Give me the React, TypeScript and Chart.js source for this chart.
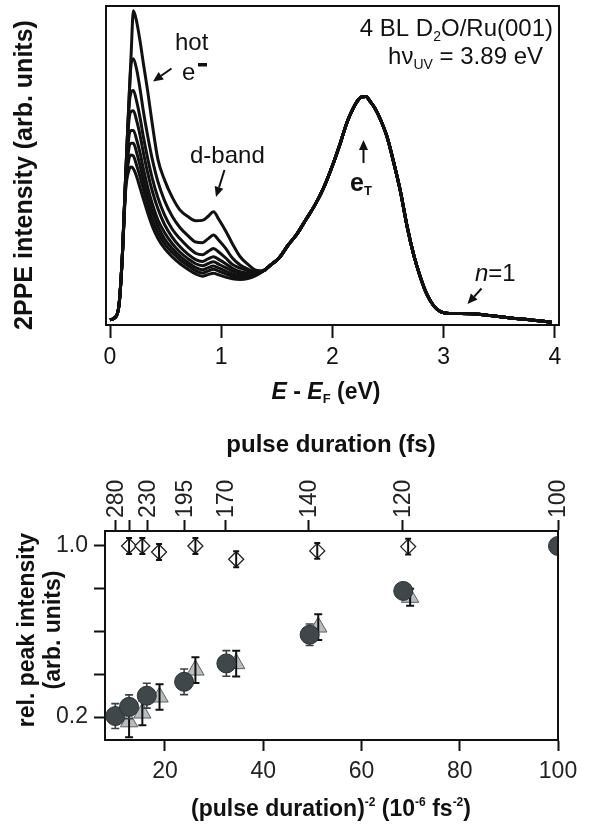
import React, { useEffect, useRef } from 'react';
import { Chart, registerables } from 'chart.js';
Chart.register(...registerables);

const FONT = '"Liberation Sans", Arial, Helvetica, sans-serif';

// ---------- top panel: 2PPE spectra ----------
const energyLow = [0.0, 0.04, 0.08, 0.11, 0.14, 0.17, 0.19, 0.21, 0.24, 0.27, 0.3, 0.34, 0.38, 0.43, 0.49, 0.56, 0.63, 0.7, 0.77, 0.83, 0.88, 0.93, 0.98, 1.04, 1.1, 1.17, 1.24, 1.31];
const spectrum1 = [0.016, 0.022, 0.06, 0.21, 0.46, 0.7, 0.85, 0.985, 0.95, 0.89, 0.82, 0.73, 0.63, 0.52, 0.455, 0.4, 0.36, 0.34, 0.327, 0.328, 0.34, 0.355, 0.33, 0.295, 0.255, 0.214, 0.19, 0.172];
const spectrum2 = [0.016, 0.022, 0.06, 0.21, 0.46, 0.7, 0.82, 0.835, 0.8, 0.74, 0.67, 0.59, 0.52, 0.45, 0.39, 0.34, 0.305, 0.28, 0.26, 0.258, 0.27, 0.282, 0.265, 0.24, 0.21, 0.188, 0.175, 0.166];
const spectrum3 = [0.016, 0.022, 0.06, 0.21, 0.46, 0.68, 0.73, 0.735, 0.7, 0.65, 0.59, 0.52, 0.46, 0.4, 0.345, 0.3, 0.27, 0.245, 0.225, 0.22, 0.23, 0.24, 0.228, 0.21, 0.19, 0.178, 0.17, 0.165];
const spectrum4 = [0.016, 0.022, 0.06, 0.21, 0.46, 0.64, 0.67, 0.672, 0.64, 0.595, 0.54, 0.475, 0.42, 0.365, 0.315, 0.275, 0.245, 0.222, 0.205, 0.199, 0.207, 0.214, 0.205, 0.192, 0.178, 0.167, 0.163, 0.162];
const spectrum5 = [0.016, 0.022, 0.06, 0.21, 0.45, 0.59, 0.61, 0.61, 0.58, 0.54, 0.49, 0.43, 0.38, 0.33, 0.29, 0.255, 0.228, 0.208, 0.192, 0.186, 0.192, 0.198, 0.19, 0.18, 0.169, 0.162, 0.16, 0.161];
const spectrum6 = [0.016, 0.022, 0.06, 0.21, 0.44, 0.555, 0.57, 0.57, 0.54, 0.5, 0.455, 0.4, 0.355, 0.31, 0.27, 0.24, 0.215, 0.196, 0.18, 0.173, 0.179, 0.185, 0.178, 0.169, 0.16, 0.155, 0.155, 0.159];
const spectrum7 = [0.016, 0.022, 0.06, 0.21, 0.43, 0.52, 0.533, 0.53, 0.5, 0.465, 0.425, 0.375, 0.33, 0.29, 0.255, 0.227, 0.204, 0.186, 0.17, 0.163, 0.169, 0.175, 0.168, 0.16, 0.153, 0.15, 0.151, 0.157];
const spectrum8 = [0.016, 0.022, 0.06, 0.21, 0.42, 0.485, 0.495, 0.49, 0.465, 0.43, 0.395, 0.35, 0.31, 0.272, 0.24, 0.213, 0.192, 0.175, 0.16, 0.153, 0.158, 0.162, 0.157, 0.15, 0.145, 0.143, 0.146, 0.155];
const energyHigh = [1.38, 1.45, 1.52, 1.6, 1.68, 1.76, 1.84, 1.92, 2.0, 2.07, 2.13, 2.18, 2.22, 2.26, 2.3, 2.34, 2.38, 2.43, 2.49, 2.55, 2.61, 2.67, 2.73, 2.79, 2.85, 2.91, 2.97, 3.05, 3.15, 3.25, 3.35, 3.45, 3.55, 3.65, 3.75, 3.85, 3.97];
const spectrumHighCommon = [0.17, 0.19, 0.21, 0.25, 0.285, 0.33, 0.375, 0.43, 0.5, 0.57, 0.635, 0.675, 0.7, 0.715, 0.716, 0.7, 0.68, 0.645, 0.59, 0.51, 0.42, 0.31, 0.22, 0.15, 0.095, 0.06, 0.042, 0.036, 0.036, 0.035, 0.032, 0.028, 0.024, 0.02, 0.017, 0.013, 0.009];
const energyTicks = [0, 1, 2, 3, 4];

// ---------- bottom panel: relative peak intensity ----------
const circleX = [9.9, 12.7, 16.3, 23.9, 32.5, 49.45, 68.5, 100];
const circleY = [0.205, 0.248, 0.3, 0.365, 0.451, 0.585, 0.79, 1.0];
const circleErr = [0.058, 0.056, 0.058, 0.06, 0.06, 0.05, 0.03, 0];
const triangleX = [12.7, 15.4, 18.9, 26.2, 34.5, 51.2, 69.9];
const triangleY = [0.178, 0.219, 0.294, 0.42, 0.45, 0.621, 0.76];
const triangleErr = [0.072, 0.057, 0.06, 0.06, 0.06, 0.06, 0.04];
const diamondX = [12.7, 15.4, 18.8, 26.2, 34.5, 51.0, 69.5];
const diamondY = [1.0, 1.0, 0.972, 1.0, 0.938, 0.977, 0.997];
const diamondErr = [0.037, 0.037, 0.037, 0.037, 0.037, 0.037, 0.037];
const invSqTicks = [20, 40, 60, 80, 100];
const pulseTickPos = [9.9, 12.7, 16.4, 24.0, 32.4, 49.3, 68.4, 100];
const pulseTickLabels = ['280', '', '230', '195', '170', '140', '120', '100'];
const relTicks = [0.2, 0.4, 0.6, 0.8, 1.0];
const relTickLabels = ['0.2', '', '', '', '1.0'];

type Part = { t: string; font: string; dy?: number };
function drawParts(ctx: CanvasRenderingContext2D, parts: Part[], x: number, y: number, align: 'left' | 'center' | 'right') {
  let w = 0;
  for (const p of parts) {
    ctx.font = p.font;
    w += ctx.measureText(p.t).width;
  }
  let cx = align === 'left' ? x : align === 'center' ? x - w / 2 : x - w;
  ctx.textAlign = 'left';
  ctx.textBaseline = 'alphabetic';
  for (const p of parts) {
    ctx.font = p.font;
    ctx.fillText(p.t, cx, y + (p.dy || 0));
    cx += ctx.measureText(p.t).width;
  }
}

function drawArrow(ctx: CanvasRenderingContext2D, x1: number, y1: number, x2: number, y2: number) {
  const ang = Math.atan2(y2 - y1, x2 - x1);
  const hl = 10, hw = 4.5;
  const bx = x2 - hl * Math.cos(ang), by = y2 - hl * Math.sin(ang);
  ctx.beginPath();
  ctx.moveTo(x1, y1);
  ctx.lineTo(bx, by);
  ctx.lineWidth = 2;
  ctx.stroke();
  ctx.beginPath();
  ctx.moveTo(x2, y2);
  ctx.lineTo(bx + hw * Math.sin(ang), by - hw * Math.cos(ang));
  ctx.lineTo(bx - hw * Math.sin(ang), by + hw * Math.cos(ang));
  ctx.closePath();
  ctx.fill();
}

const R = (s: number) => `${s}px ${FONT}`;
const B = (s: number) => `bold ${s}px ${FONT}`;
const BI = (s: number) => `italic bold ${s}px ${FONT}`;
const I = (s: number) => `italic ${s}px ${FONT}`;

const topAnnot = {
  id: 'topAnnot',
  afterDraw(chart: any) {
    const { ctx, chartArea: ca } = chart;
    ctx.save();
    ctx.strokeStyle = '#111';
    ctx.fillStyle = '#111';
    ctx.lineWidth = 2;
    ctx.strokeRect(ca.left, ca.top, ca.right - ca.left, ca.bottom - ca.top);

    drawParts(ctx, [{ t: '4 BL D', font: R(24) }, { t: '2', font: R(14), dy: 5 }, { t: 'O/Ru(001)', font: R(24) }], 553, 36, 'right');
    drawParts(ctx, [{ t: 'h\u03BD', font: R(24) }, { t: 'UV', font: R(14), dy: 5 }, { t: ' = 3.89 eV', font: R(24) }], 543, 64, 'right');
    drawParts(ctx, [{ t: 'hot', font: R(24) }], 175, 50, 'left');
    drawParts(ctx, [{ t: 'e', font: R(24) }], 182, 80, 'left');
    ctx.fillRect(198, 63, 9, 3.5);
    drawParts(ctx, [{ t: 'd-band', font: R(24) }], 190, 163, 'left');
    drawParts(ctx, [{ t: 'e', font: B(25) }, { t: 'T', font: B(13), dy: 4 }], 350, 191, 'left');
    drawParts(ctx, [{ t: 'n', font: I(24) }, { t: '=1', font: R(24) }], 475, 281, 'left');

    drawArrow(ctx, 171.5, 68.5, 153, 81.5);
    drawArrow(ctx, 224.5, 170, 216, 197);
    drawArrow(ctx, 363.5, 163, 363.5, 140);
    drawArrow(ctx, 481.5, 288.5, 467.5, 304);

    drawParts(ctx, [{ t: 'E', font: BI(23) }, { t: ' - ', font: B(23) }, { t: 'E', font: BI(23) }, { t: 'F', font: B(13), dy: 4 }, { t: ' (eV)', font: B(23) }], 326, 399, 'center');

    ctx.save();
    ctx.translate(32, 175);
    ctx.rotate(-Math.PI / 2);
    drawParts(ctx, [{ t: '2PPE intensity (arb. units)', font: B(25) }], 0, 0, 'center');
    ctx.restore();
    ctx.restore();
  },
};

function drawErr(chart: any, xs: number[], ys: number[], errs: number[], color: string, lw: number, cap: number) {
  const { ctx, scales } = chart;
  const sx = scales.x, sy = scales.y;
  ctx.save();
  ctx.strokeStyle = color;
  ctx.lineWidth = lw;
  for (let i = 0; i < xs.length; i++) {
    if (!errs[i]) continue;
    const px = sx.getPixelForValue(xs[i]);
    const y1 = sy.getPixelForValue(ys[i] + errs[i]);
    const y2 = sy.getPixelForValue(ys[i] - errs[i]);
    ctx.beginPath();
    ctx.moveTo(px, y1);
    ctx.lineTo(px, y2);
    ctx.moveTo(px - cap, y1);
    ctx.lineTo(px + cap, y1);
    ctx.moveTo(px - cap, y2);
    ctx.lineTo(px + cap, y2);
    ctx.stroke();
  }
  ctx.restore();
}

const errorBars = {
  id: 'errorBars',
  beforeDatasetDraw(chart: any, args: any) {
    if (args.index === 0) drawErr(chart, circleX, circleY, circleErr, '#3a4145', 1.6, 4);
  },
  afterDatasetDraw(chart: any, args: any) {
    if (args.index === 1) drawErr(chart, triangleX, triangleY, triangleErr, '#111', 2, 4);
    if (args.index === 2) drawErr(chart, diamondX, diamondY, diamondErr, '#111', 2, 3);
  },
};

const bottomAnnot = {
  id: 'bottomAnnot',
  afterDraw(chart: any) {
    const { ctx, chartArea: ca } = chart;
    ctx.save();
    ctx.strokeStyle = '#111';
    ctx.fillStyle = '#111';
    ctx.lineWidth = 2;
    ctx.beginPath();
    ctx.moveTo(ca.right, ca.top);
    ctx.lineTo(ca.right, ca.bottom);
    ctx.stroke();

    // top axis labels (rotated)
    const sx2 = chart.scales.x2;
    ctx.fillStyle = '#222';
    ctx.font = R(23);
    for (let i = 0; i < pulseTickPos.length; i++) {
      const lbl = pulseTickLabels[i];
      if (!lbl) continue;
      const px = sx2.getPixelForValue(pulseTickPos[i]);
      ctx.save();
      ctx.translate(px, ca.top - 13);
      ctx.rotate(-Math.PI / 2);
      ctx.textAlign = 'left';
      ctx.textBaseline = 'middle';
      ctx.fillText(lbl, 0, 1);
      ctx.restore();
    }
    ctx.fillStyle = '#111';

    drawParts(ctx, [{ t: 'pulse duration (fs)', font: B(24) }], 331, 42, 'center');
    drawParts(
      ctx,
      [
        { t: '(pulse duration)', font: B(23) },
        { t: '-2', font: B(12), dy: -10 },
        { t: ' (10', font: B(23) },
        { t: '-6', font: B(12), dy: -10 },
        { t: ' fs', font: B(23) },
        { t: '-2', font: B(12), dy: -10 },
        { t: ')', font: B(23) },
      ],
      331,
      406,
      'center'
    );
    ctx.save();
    ctx.translate(34, 220);
    ctx.rotate(-Math.PI / 2);
    drawParts(ctx, [{ t: 'rel. peak intensity', font: B(23) }], 0, 0, 'center');
    ctx.restore();
    ctx.save();
    ctx.translate(60, 220);
    ctx.rotate(-Math.PI / 2);
    drawParts(ctx, [{ t: '(arb. units)', font: B(23) }], 0, 0, 'center');
    ctx.restore();
    ctx.restore();
  },
};

const axisGrid = { drawOnChartArea: false, drawTicks: true, tickLength: 11, tickWidth: 2, tickColor: '#111' };
const axisBorder = { display: true, color: '#111', width: 2 };

export default function App() {
  const topRef = useRef<HTMLCanvasElement>(null);
  const botRef = useRef<HTMLCanvasElement>(null);

  useEffect(() => {
    const spectra = [spectrum1, spectrum2, spectrum3, spectrum4, spectrum5, spectrum6, spectrum7, spectrum8];
    const top = new Chart(topRef.current as HTMLCanvasElement, {
      type: 'line',
      data: {
        datasets: spectra.map((vals) => ({
          data: [
            ...energyLow.map((e, j) => ({ x: e, y: vals[j] })),
            ...energyHigh.map((e, j) => ({ x: e, y: spectrumHighCommon[j] })),
          ],
          borderColor: '#111',
          borderWidth: 3,
          pointRadius: 0,
          cubicInterpolationMode: 'monotone',
          fill: false,
        })),
      },
      options: {
        responsive: false,
        animation: false,
        events: [],
        layout: { padding: { left: 106, right: 36, top: 6, bottom: 0 } },
        plugins: { legend: { display: false }, tooltip: { enabled: false } },
        scales: {
          x: {
            type: 'linear',
            min: -0.036,
            max: 4.036,
            afterBuildTicks: (s: any) => {
              s.ticks = energyTicks.map((v) => ({ value: v }));
            },
            afterFit: (s: any) => {
              s.height = 85;
            },
            grid: { ...axisGrid, tickLength: 13 },
            border: axisBorder,
            ticks: { font: { family: FONT, size: 23 }, color: '#111', padding: 6, maxRotation: 0, autoSkip: false },
          },
          y: { display: false, min: 0, max: 1 },
        },
      } as any,
      plugins: [topAnnot],
    });

    const bot = new Chart(botRef.current as HTMLCanvasElement, {
      type: 'scatter',
      data: {
        datasets: [
          {
            data: circleX.map((x, i) => ({ x, y: circleY[i] })),
            pointStyle: 'circle',
            pointRadius: 9.5,
            backgroundColor: '#40474b',
            borderColor: '#2b3134',
            borderWidth: 1,
          },
          {
            data: triangleX.map((x, i) => ({ x, y: triangleY[i] })),
            pointStyle: 'triangle',
            pointRadius: 10,
            backgroundColor: '#b8bcbe',
            borderColor: '#5a5f62',
            borderWidth: 1,
          },
          {
            data: diamondX.map((x, i) => ({ x, y: diamondY[i] })),
            pointStyle: 'rectRot',
            pointRadius: 7.5,
            backgroundColor: '#ffffff',
            borderColor: '#222',
            borderWidth: 1.3,
          },
        ],
      },
      options: {
        responsive: false,
        animation: false,
        events: [],
        layout: { padding: { left: 0, right: 37, top: 0, bottom: 0 } },
        plugins: { legend: { display: false }, tooltip: { enabled: false } },
        scales: {
          x: {
            type: 'linear',
            position: 'bottom',
            min: 7.8,
            max: 100,
            afterBuildTicks: (s: any) => {
              s.ticks = invSqTicks.map((v) => ({ value: v }));
            },
            afterFit: (s: any) => {
              s.height = 85;
            },
            grid: axisGrid,
            border: axisBorder,
            ticks: { font: { family: FONT, size: 23 }, color: '#222', padding: 7, maxRotation: 0, autoSkip: false },
          },
          x2: {
            type: 'linear',
            position: 'top',
            axis: 'x',
            min: 7.8,
            max: 100,
            afterBuildTicks: (s: any) => {
              s.ticks = pulseTickPos.map((v) => ({ value: v }));
            },
            afterFit: (s: any) => {
              s.height = 121;
            },
            grid: axisGrid,
            border: axisBorder,
            ticks: { display: false },
          },
          y: {
            type: 'linear',
            min: 0.093,
            max: 1.07,
            afterBuildTicks: (s: any) => {
              s.ticks = relTicks.map((v) => ({ value: v }));
            },
            afterFit: (s: any) => {
              s.width = 105;
            },
            grid: axisGrid,
            border: axisBorder,
            ticks: {
              font: { family: FONT, size: 23 },
              color: '#222',
              padding: 6,
              autoSkip: false,
              callback: (_v: any, i: number) => relTickLabels[i],
            },
          },
        },
      } as any,
      plugins: [errorBars, bottomAnnot],
    });

    return () => {
      top.destroy();
      bot.destroy();
    };
  }, []);

  return (
    <div style={{ position: 'absolute', left: 0, top: 0, width: 595, height: 825, background: '#ffffff' }}>
      <canvas ref={topRef} width={595} height={410} style={{ position: 'absolute', left: 0, top: 0, display: 'block' }} />
      <canvas ref={botRef} width={595} height={415} style={{ position: 'absolute', left: 0, top: 410, display: 'block' }} />
    </div>
  );
}
